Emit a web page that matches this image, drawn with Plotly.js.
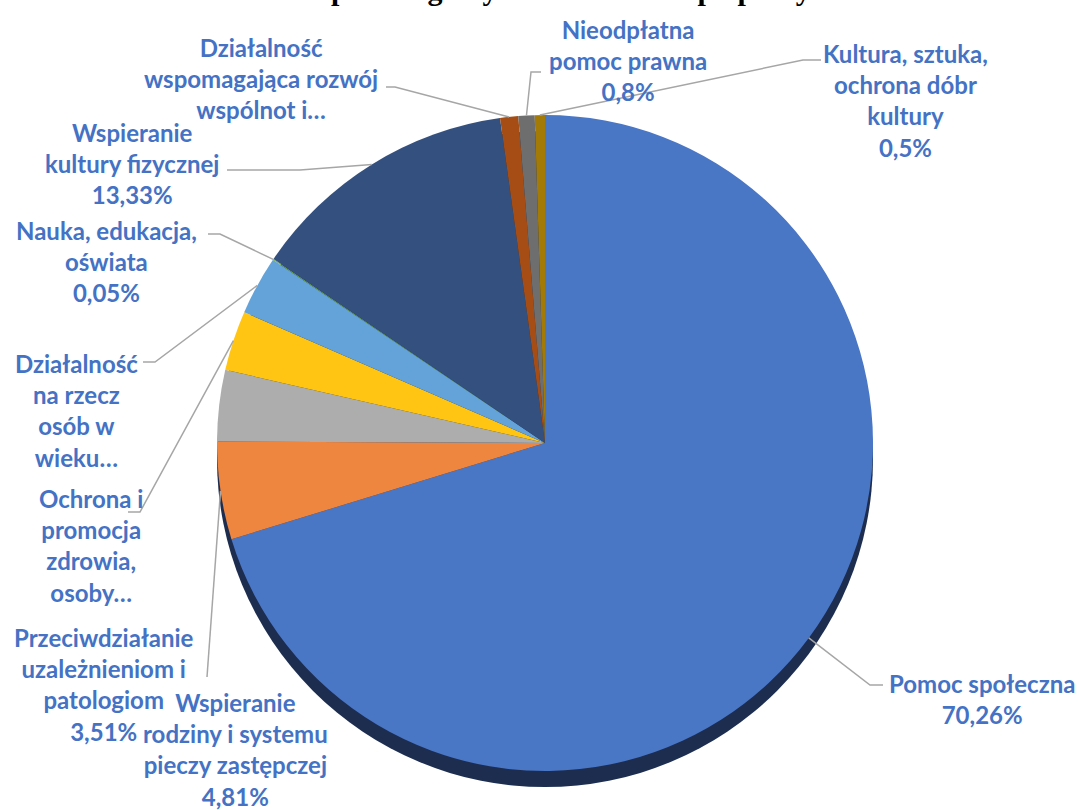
<!DOCTYPE html>
<html><head><meta charset="utf-8">
<script src="https://cdn.plot.ly/plotly-3.0.1.min.js"></script>
<style>html,body{margin:0;padding:0;background:#fff}#chart{width:1079px;height:810px}</style>
</head><body><div id="chart"></div>
<script>
// ---- data ----
const categories = [
  "Pomoc społeczna",
  "Wspieranie rodziny i systemu pieczy zastępczej",
  "Przeciwdziałanie uzależnieniom i patologiom",
  "Ochrona i promocja zdrowia, osoby…",
  "Działalność na rzecz osób w wieku…",
  "Nauka, edukacja, oświata",
  "Wspieranie kultury fizycznej",
  "Działalność wspomagająca rozwój wspólnot i…",
  "Nieodpłatna pomoc prawna",
  "Kultura, sztuka, ochrona dóbr kultury"
];
const values = [70.26, 4.81, 3.51, 2.95, 2.9, 0.05, 13.33, 0.89, 0.8, 0.5];
const labelLines = [
  ["Pomoc społeczna"],
  ["Wspieranie", "rodziny i systemu", "pieczy zastępczej"],
  ["Przeciwdziałanie", "uzależnieniom i", "patologiom"],
  ["Ochrona i", "promocja", "zdrowia,", "osoby…"],
  ["Działalność", "na rzecz", "osób w", "wieku…"],
  ["Nauka, edukacja,", "oświata"],
  ["Wspieranie", "kultury fizycznej"],
  ["Działalność", "wspomagająca rozwój", "wspólnot i…"],
  ["Nieodpłatna", "pomoc prawna"],
  ["Kultura, sztuka,", "ochrona dóbr", "kultury"]
];
const showPercent = [true, true, true, false, false, true, true, false, true, true];
const titleText = "Udział poszczególnych obszarów współpracy";

// ---- style / layout ----
const colors = ["#4A76C6", "#EF8640", "#ADADAD", "#FFC512", "#64A3DA", "#70AD47",
                "#33507F", "#A54D14", "#6E6E6E", "#A37A05"];
const W = 1079, H = 810;
const CX = 545, CY = 443, R = 328, RIM = 16;
const px2x = p => p / W, py2y = p => 1 - p / H;
const labelPos = [[982, 699], [235, 749], [104, 684], [91, 545], [76, 410],
                  [106, 261], [132, 163], [261, 78], [628, 60], [905, 101]];
const leaderPts = [
  [[870, 685], [883, 685]],
  [[207, 677]],
  null,
  [[140, 512], [128, 512]],
  [[155, 362], [143, 362]],
  [[220, 234], [208, 234]],
  [[300, 170], [227, 170]],
  [[395, 87], [386, 87]],
  [[531, 72], [541, 72]],
  [[803, 60], [821, 60]]
];

const dom = {x: [px2x(CX - R), px2x(CX + R)], y: [py2y(CY + R), py2y(CY - R)]};
const domRim = {x: dom.x, y: [py2y(CY + R + RIM), py2y(CY - R + RIM)]};

const total = values.reduce((a, b) => a + b, 0);
let cum = 0;
const anchors = values.map(v => {
  const mid = (cum + v / 2) / total * 2 * Math.PI;
  cum += v;
  return [CX + R * Math.sin(mid), CY - R * Math.cos(mid)];
});

const fmt = v => String(v).replace('.', ',') + '%';

const annotations = categories.map((c, i) => {
  const lines = labelLines[i].slice();
  if (showPercent[i]) lines.push(fmt(values[i]));
  return {
    xref: 'paper', yref: 'paper', x: px2x(labelPos[i][0]), y: py2y(labelPos[i][1]),
    xanchor: 'center', yanchor: 'middle', showarrow: false, align: 'center',
    text: lines.join('<br>'),
    font: {family: 'Lato, "Open Sans", sans-serif', size: 24, color: '#4472C4', weight: 'bold'}
  };
});

const shapes = [];
leaderPts.forEach((pts, i) => {
  if (!pts) return;
  const all = [anchors[i]].concat(pts);
  const d = all.map((p, k) => (k ? 'L' : 'M') + px2x(p[0]) + ',' + py2y(p[1])).join(' ');
  shapes.push({type: 'path', xref: 'paper', yref: 'paper', path: d,
               line: {color: '#A6A6A6', width: 1.5}});
});

const data = [
  {type: 'pie', values: [1], labels: ['rim'], domain: domRim, sort: false,
   marker: {colors: ['#1C2D4F'], line: {width: 0}}, textinfo: 'none', hoverinfo: 'skip', showlegend: false},
  {type: 'pie', values: values, labels: categories, domain: dom, sort: false,
   direction: 'clockwise', rotation: 0,
   marker: {colors: colors, line: {width: 0}}, textinfo: 'none', showlegend: false}
];

const layout = {
  width: W, height: H, margin: {l: 0, r: 0, t: 0, b: 0},
  paper_bgcolor: '#fff', showlegend: false,
  title: {text: titleText, x: 0.487, xanchor: 'center', y: 1, yref: 'container', yanchor: 'bottom',
          font: {family: '"Liberation Serif", "Times New Roman", serif', size: 30, color: '#000', weight: 'bold'}},
  annotations: annotations, shapes: shapes
};
Plotly.newPlot('chart', data, layout, {displayModeBar: false, staticPlot: true});
</script></body></html>
